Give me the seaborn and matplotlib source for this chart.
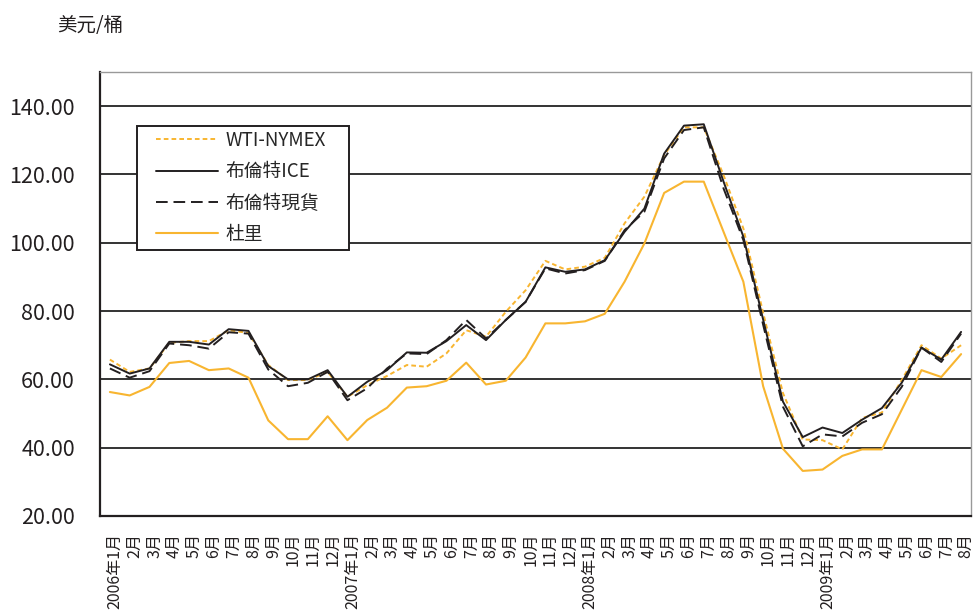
import matplotlib
matplotlib.use("Agg")
import matplotlib.pyplot as plt
from matplotlib.transforms import ScaledTranslation
from matplotlib.ticker import FixedLocator
from matplotlib.patches import Rectangle
import seaborn as sns
import pandas as pd

# ---- data ----
month_labels = (["2006年1月"] + [f"{m}月" for m in range(2, 13)] +
                ["2007年1月"] + [f"{m}月" for m in range(2, 13)] +
                ["2008年1月"] + [f"{m}月" for m in range(2, 13)] +
                ["2009年1月"] + [f"{m}月" for m in range(2, 9)])

wti = [65.8, 62.2, 63.2, 70.7, 71.2, 71.2, 74.4, 73.6, 64.2, 59.8, 59.8, 62.2,
       54.9, 58.3, 61.0, 64.2, 63.7, 67.6, 74.4, 72.5, 79.8, 86.1, 94.7, 92.2,
       93.0, 95.6, 105.7, 113.5, 125.7, 133.8, 133.8, 119.8, 104.2, 79.5, 56.0, 42.4,
       42.2, 39.5, 48.7, 50.3, 59.8, 70.0, 66.1, 70.0]
brent_ice = [64.4, 61.7, 63.2, 71.0, 71.0, 70.2, 74.7, 74.2, 63.9, 60.0, 60.0, 62.7,
             54.9, 59.3, 62.7, 67.9, 67.8, 71.2, 75.9, 71.5, 77.4, 82.7, 92.8, 91.5,
             92.2, 94.9, 103.2, 110.0, 126.1, 134.3, 134.7, 117.9, 101.8, 77.5, 53.5, 43.1,
             45.9, 44.3, 48.2, 51.6, 59.0, 69.3, 65.8, 73.9]
brent_spot = [63.2, 60.5, 62.4, 70.5, 70.0, 69.0, 73.8, 73.4, 62.9, 58.0, 59.0, 62.2,
              53.9, 57.4, 63.2, 67.6, 67.4, 71.5, 77.4, 72.0, 77.4, 82.7, 92.5, 91.0,
              92.0, 94.7, 103.7, 109.1, 124.7, 133.0, 133.8, 115.9, 100.8, 76.0, 52.0, 40.4,
              43.9, 43.3, 47.3, 49.8, 57.8, 69.3, 65.1, 73.4]
dubai = [56.3, 55.3, 57.8, 64.8, 65.4, 62.7, 63.2, 60.5, 48.0, 42.5, 42.5, 49.2,
         42.2, 48.1, 51.7, 57.6, 58.0, 59.6, 64.9, 58.5, 59.6, 66.4, 76.4, 76.4,
         77.0, 79.2, 88.6, 99.8, 114.6, 117.9, 117.9, 103.2, 88.6, 58.0, 39.7, 33.2,
         33.6, 37.6, 39.5, 39.5, 51.1, 62.7, 60.7, 67.4]
series_names = ["WTI-NYMEX", "布倫特ICE", "布倫特現貨", "杜里"]
y_ticks = [20, 40, 60, 80, 100, 120, 140]

# ---- style ----
sns.set_style("white")
plt.rcParams["font.family"] = ["Noto Sans CJK TC", "DejaVu Sans"]

ORANGE = "#F8B530"
BLACK = "#231F20"

W, H = 974, 615
AX_L, AX_R, AX_T, AX_B = 100, 971, 72, 516

fig = plt.figure(figsize=(W / 100, H / 100), dpi=100)
ax = fig.add_axes([AX_L / W, 1 - AX_B / H, (AX_R - AX_L) / W, (AX_B - AX_T) / H])


def axc(px, py):
    """pixel position -> axes fraction"""
    return (px - AX_L) / (AX_R - AX_L), (AX_B - py) / (AX_B - AX_T)


idx = list(range(len(month_labels)))
df = pd.DataFrame({"i": idx, "wti": wti, "ice": brent_ice, "spot": brent_spot, "dubai": dubai})

sns.lineplot(data=df, x="i", y="wti", ax=ax, color=ORANGE, lw=1.4,
             linestyle=(0, (2.4, 1.6)), label=series_names[0])
sns.lineplot(data=df, x="i", y="ice", ax=ax, color=BLACK, lw=1.4,
             label=series_names[1])
sns.lineplot(data=df, x="i", y="spot", ax=ax, color=BLACK, lw=1.4,
             linestyle=(0, (6, 3)), label=series_names[2])
sns.lineplot(data=df, x="i", y="dubai", ax=ax, color=ORANGE, lw=1.5,
             label=series_names[3])

ax.set_xlim(-0.5, len(month_labels) - 0.5)
ax.set_ylim(20, 150)
ax.set_xlabel("")
ax.set_ylabel("")

# y axis
ax.set_yticks(y_ticks)
ax.set_yticklabels([f"{v:.2f}" for v in y_ticks], fontsize=15.5, color="#231F20")
ax.tick_params(axis="y", length=0, pad=18)
ax.yaxis.grid(True, color="#333333", lw=1.4)
ax.set_axisbelow(True)

# x axis
ax.set_xticks(idx)
ax.set_xticklabels(month_labels, rotation=90, fontsize=11.5, color="#231F20", va="top")
ax.xaxis.set_minor_locator(FixedLocator([i + 0.5 for i in idx[:-1]]))
ax.tick_params(axis="x", which="major", length=0, pad=12)
ax.tick_params(axis="x", which="minor", length=5, width=1.2, direction="in", color=BLACK)
offset = ScaledTranslation(5 / 100, 0, fig.dpi_scale_trans)
for lab in ax.get_xticklabels():
    lab.set_transform(lab.get_transform() + offset)

# spines
for s in ["left", "bottom"]:
    ax.spines[s].set_color(BLACK)
    ax.spines[s].set_linewidth(1.6)
for s in ["top", "right"]:
    ax.spines[s].set_color("#999999")
    ax.spines[s].set_linewidth(1.0)

# legend box (manual frame) + frameless legend
x0, y1 = axc(137, 126)
x1, y0 = axc(349, 250)
box = Rectangle((x0, y0), x1 - x0, y1 - y0, transform=ax.transAxes,
                facecolor="white", edgecolor=BLACK, lw=1.4, zorder=4)
ax.add_patch(box)
lx, ly = axc(156, 130)
leg = ax.legend(loc="upper left", bbox_to_anchor=(lx, ly),
                frameon=False, fontsize=13.5, handlelength=3.3,
                handletextpad=0.4, labelspacing=0.55, borderpad=0,
                borderaxespad=0)
leg.set_zorder(5)

fig.text(57 / W, 1 - 25 / H, "美元/桶", fontsize=14, va="center", ha="left", color="#231F20")

fig.savefig("out.png", dpi=100)
